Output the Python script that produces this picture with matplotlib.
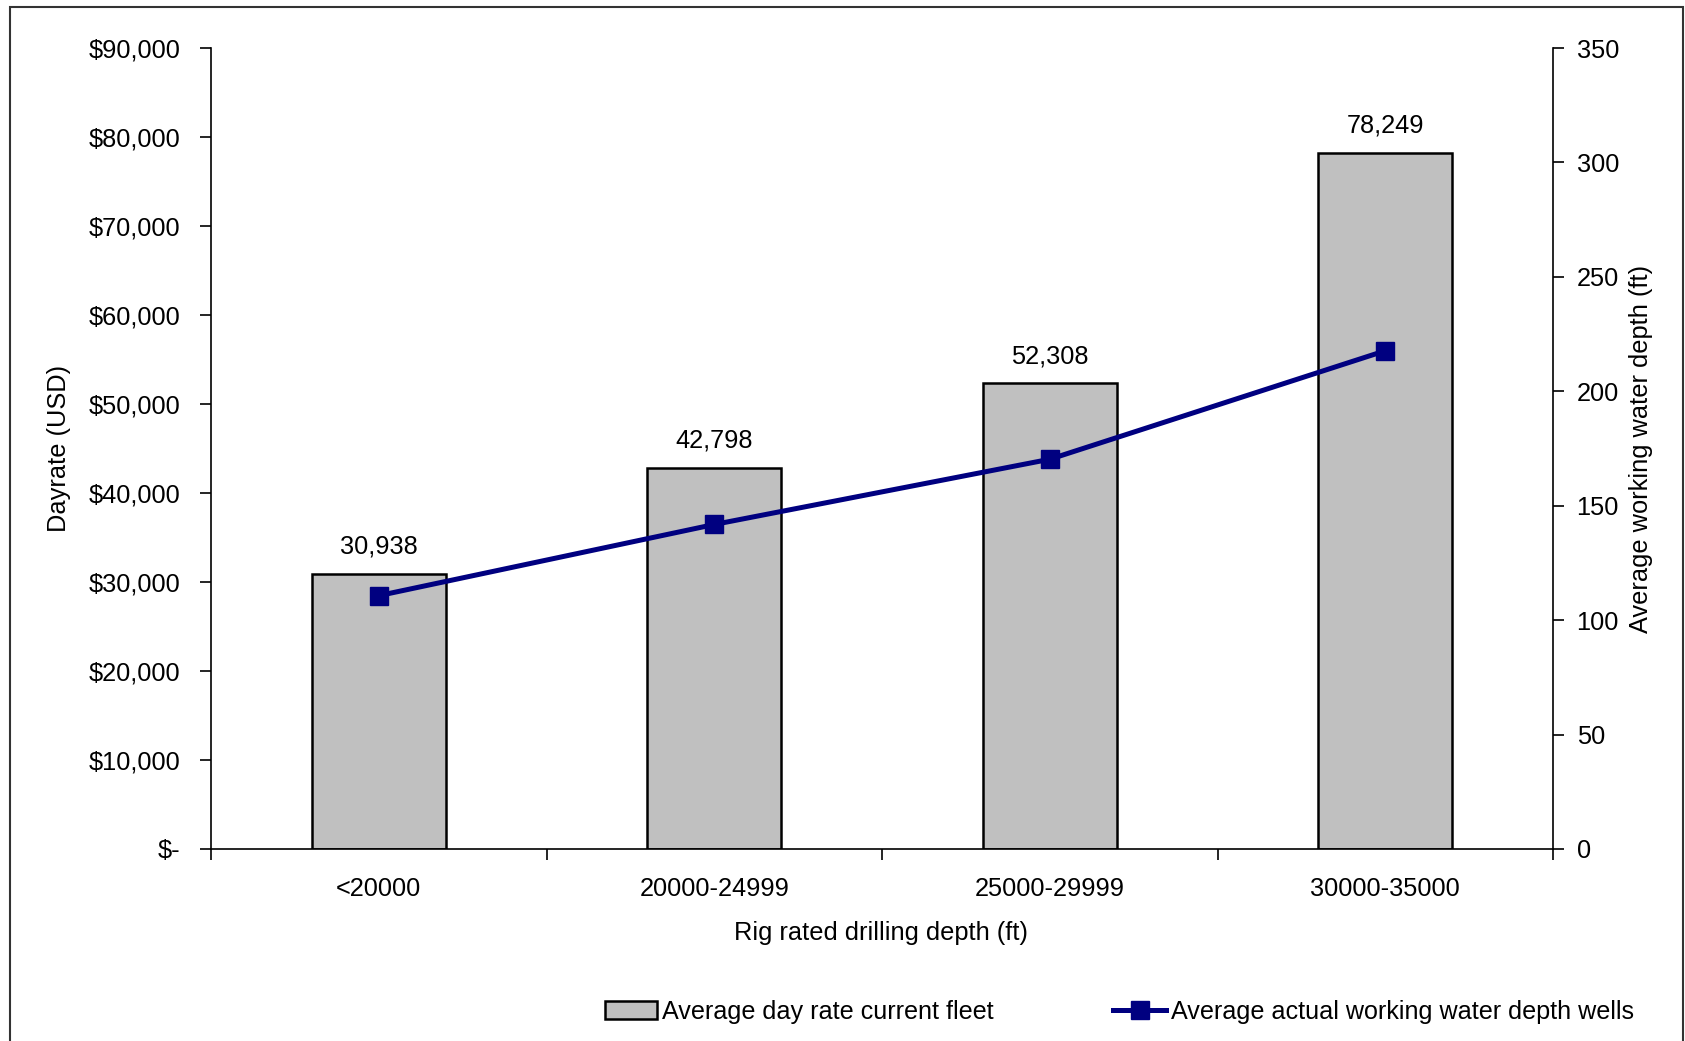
import matplotlib
matplotlib.use('Agg')
import matplotlib.pyplot as plt
from matplotlib.ticker import FuncFormatter
from matplotlib.patches import Rectangle

plt.rcParams['font.family'] = ['Liberation Sans', 'DejaVu Sans']
plt.rcParams['font.size'] = 18.3

# data
categories = ['<20000', '20000-24999', '25000-29999', '30000-35000']
day_rate = [30938, 42798, 52308, 78249]
water_depth = [110.7, 141.8, 170.3, 217.7]

fig = plt.figure(figsize=(16.85, 10.41), dpi=100)
ax = fig.add_axes([211/1685, 1-849/1041, (1553-211)/1685, (849-48)/1041])
ax2 = ax.twinx()

x = list(range(len(categories)))
bars = ax.bar(x, day_rate, width=0.4, color='#C0C0C0', edgecolor='black',
              linewidth=1.8, label='Average day rate current fleet', zorder=2)
for xi, v in zip(x, day_rate):
    ax.annotate(f'{v:,}', (xi, v), xytext=(0, 14.5), textcoords='offset points',
                ha='center', va='baseline')

line, = ax2.plot(x, water_depth, color='#000080', lw=3.6, marker='s', ms=13.5,
                 label='Average actual working water depth wells', zorder=3)

ax.set_xlim(-0.5, 3.5)
ax.set_ylim(0, 90000)
ax.set_yticks(range(0, 90001, 10000))
ax.yaxis.set_major_formatter(FuncFormatter(lambda v, p: '$-' if v == 0 else f'${v:,.0f}'))
ax2.set_ylim(0, 350)
ax2.set_yticks(range(0, 351, 50))

# category ticks between bars, labels centered
ax.set_xticks([-0.5, 0.5, 1.5, 2.5, 3.5])
ax.set_xticklabels([])
ax.set_xticks(x, minor=True)
ax.set_xticklabels(categories, minor=True)
ax.tick_params(axis='x', which='major', direction='out', length=8, width=1.2)
ax.tick_params(axis='x', which='minor', length=0, pad=20)
ax.tick_params(axis='y', direction='out', length=8, width=1.2, pad=14)
ax2.tick_params(axis='y', direction='out', length=8, width=1.2, pad=9)

for a in (ax, ax2):
    a.spines['top'].set_visible(False)
    for s in ('left', 'right', 'bottom'):
        a.spines[s].set_linewidth(1.2)
ax2.spines['left'].set_visible(False)
ax.spines['right'].set_visible(False)
ax2.spines['bottom'].set_visible(False)

ax.set_ylabel('Dayrate (USD)')
ax.yaxis.set_label_coords((71-211)/1342, 0.5)
ax2.set_ylabel('Average working water depth (ft)')
ax2.yaxis.set_label_coords((1629-211)/1342, 0.5)
ax.set_xlabel('Rig rated drilling depth (ft)')
ax.xaxis.set_label_coords((881-211)/1342, (849-921)/801)

fig.legend([bars, line], [bars.get_label(), line.get_label()], ncol=2,
           loc='center left', bbox_to_anchor=(592/1685, 1-1012/1041),
           frameon=False, borderpad=0, handlelength=2.1, handleheight=0.7,
           handletextpad=0.2, columnspacing=4.75, fontsize=18.1)

fig.patches.append(Rectangle((10/1685, -0.05), (1683-10)/1685, 1.05-7/1041,
                             transform=fig.transFigure, fill=False,
                             edgecolor='#333333', lw=1.5))

fig.savefig('out.png', dpi=100)
